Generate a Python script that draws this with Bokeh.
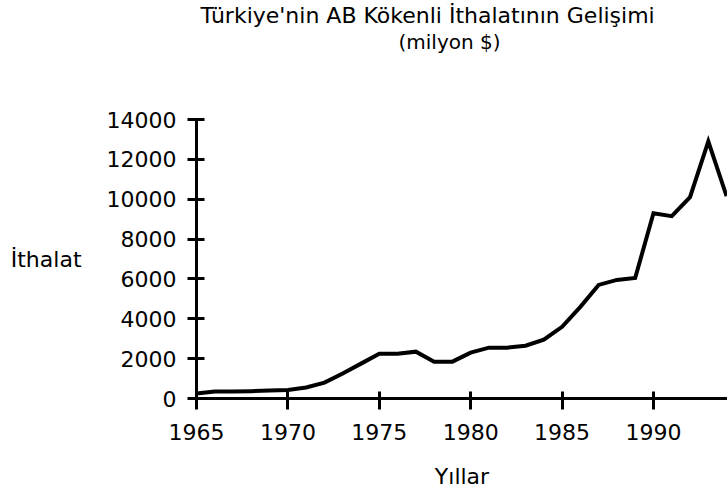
from bokeh.plotting import figure
from bokeh.models import FixedTicker, Range1d, Title
from bokeh.embed import file_html
from bokeh.resources import INLINE

years = list(range(1965, 1995))
imports = [250, 350, 350, 370, 400, 430, 550, 800, 1250, 1750,
           2250, 2250, 2350, 1850, 1850, 2300, 2550, 2550, 2650, 2950,
           3600, 4600, 5700, 5950, 6050, 9300, 9150, 10100, 12900, 10150]
x_ticks = [1965, 1970, 1975, 1980, 1985, 1990]
y_ticks = [0, 2000, 4000, 6000, 8000, 10000, 12000, 14000]
title_line1 = "Türkiye'nin AB Kökenli İthalatının Gelişimi"
title_line2 = "(milyon $)"
x_label = "Yıllar"
y_label = "İthalat"

FONT = "DejaVu Sans"

p = figure(width=727, height=491, output_backend="svg", toolbar_location=None,
           x_range=Range1d(1965, 1994.05), y_range=Range1d(0, 14000),
           min_border_left=196, min_border_right=0, min_border_top=0,
           min_border_bottom=93)
p.outline_line_color = None
p.grid.visible = False
p.background_fill_color = "white"

p.line(years, imports, line_color="black", line_width=4, line_join="miter")

for ax in (p.xaxis[0], p.yaxis[0]):
    ax.axis_line_width = 3
    ax.axis_line_color = "black"
    ax.major_tick_line_width = 3
    ax.major_tick_line_color = "black"
    ax.minor_tick_line_color = None
    ax.major_label_text_font = FONT
    ax.major_label_text_font_size = "22px"
    ax.major_label_text_color = "black"
    ax.axis_label_text_font = FONT
    ax.axis_label_text_font_size = "22px"
    ax.axis_label_text_font_style = "normal"
    ax.axis_label_text_color = "black"

p.xaxis.ticker = FixedTicker(ticks=x_ticks, minor_ticks=[])
p.yaxis.ticker = FixedTicker(ticks=y_ticks, minor_ticks=[])
p.xaxis.major_tick_in = 7
p.xaxis.major_tick_out = 11
p.xaxis.major_label_standoff = 14
p.yaxis.major_tick_in = 8
p.yaxis.major_tick_out = 9
p.yaxis.major_label_standoff = 11

p.xaxis.axis_label = x_label
p.xaxis.axis_label_standoff = 21

p.yaxis.axis_label = y_label
p.yaxis.axis_label_standoff = 22
if "axis_label_orientation" in p.yaxis[0].properties():
    p.yaxis.axis_label_orientation = "horizontal"

p.title.text = title_line1
p.title.text_font = FONT
p.title.text_font_size = "22px"
p.title.text_font_style = "normal"
p.title.text_color = "black"
p.title.align = "left"
p.title.offset = 4
p.title.standoff = 0

spacer = Title(text=" ", text_font=FONT, text_font_size="22px",
               text_color="white", standoff=39)
p.add_layout(spacer, "above")

t2 = Title(text=title_line2, text_font=FONT, text_font_size="20px",
           text_font_style="normal", text_color="black", align="left",
           offset=202, standoff=0)
p.add_layout(t2, "above")

open("out.html", "w").write(file_html(p, INLINE))
